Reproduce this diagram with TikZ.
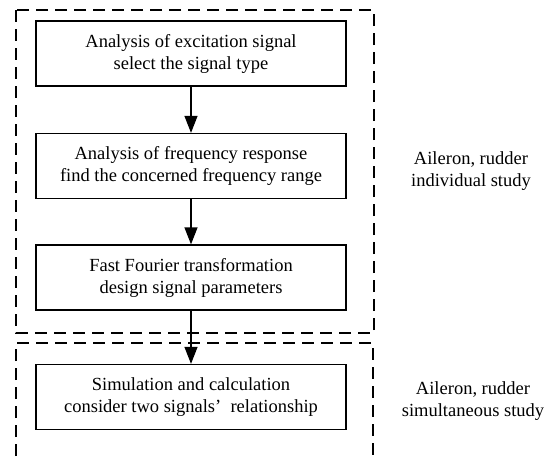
\documentclass[tikz,border=0pt]{standalone}
\usepackage{fontspec}
\setmainfont{Liberation Serif}
\usetikzlibrary{arrows.meta}

\begin{document}
\begin{tikzpicture}
    [x=1pt, y=-1pt,
     font=\fontsize{18.5}{22}\selectfont,
     >={Triangle[length=17pt, width=13pt]},
     stage/.style={draw, line width=1.3pt, minimum width=310pt,
                   minimum height=65pt, align=center, inner sep=0pt},
     group/.style={draw, line width=1.8pt, dash pattern=on 12pt off 7pt},
    ]
    \useasboundingbox (0,0) rectangle (553,456);

    % Stages
    \foreach \nm / \yy / \txt in
             {excite/53.5/{Analysis of excitation signal\\select the signal type},
              freq/166/{Analysis of frequency response\\find the concerned frequency range},
              fft/277.5/{Fast Fourier transformation\\design signal parameters},
              sim/397/{Simulation and calculation\\consider two signals’\enspace relationship}} {
        \node[stage] (\nm) at (191, \yy) {\txt};
    }

    % Arrows
    \draw[->, line width=1.3pt] (excite) -- (freq);
    \draw[->, line width=1.3pt] (freq) -- (fft);
    \draw[->, line width=1.3pt] (fft) -- (sim);

    % Study groups
    \draw[group] (16, 10) rectangle (374, 333);
    \draw[group] (16, 456) -- (16, 343) -- (373, 343) -- (373, 456);

    \node[align=center] (individual) at (471, 171) {Aileron, rudder\\individual study};
    \node[align=center] (simultaneous) at (473, 401) {Aileron, rudder\\simultaneous study};
\end{tikzpicture}
\end{document}
